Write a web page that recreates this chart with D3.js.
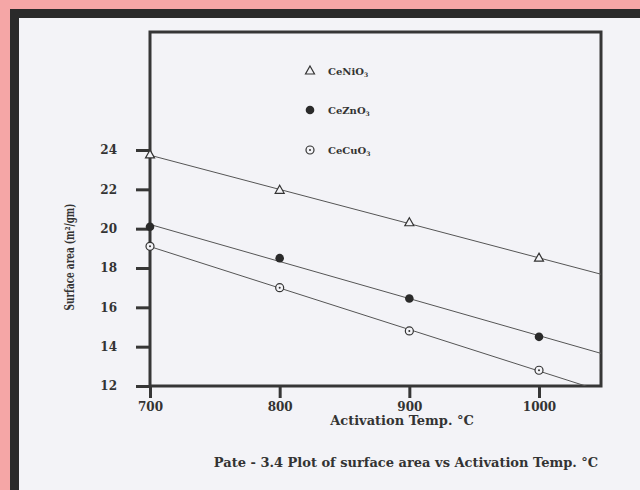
<!DOCTYPE html>
<html>
<head>
<meta charset="utf-8">
<script src="https://cdn.jsdelivr.net/npm/d3@7"></script>
<style>
  body { margin: 0; background: #f5a6a6; }
  svg { display: block; }
  text { font-family: "DejaVu Serif", "Liberation Serif", serif; font-weight: bold; fill: #333; }
</style>
</head>
<body>
<svg id="chart" width="640" height="490"></svg>
<script>
// data
const temps = [700, 800, 900, 1000]
const ceNiO3 = [23.75, 21.95, 20.3, 18.5]
const ceZnO3 = [20.1, 18.5, 16.45, 14.5]
const ceCuO3 = [19.1, 17.0, 14.8, 12.8]
const xTicks = [700, 800, 900, 1000]
const yTicks = [12, 14, 16, 18, 20, 22, 24]

const series = [
  { name: 'CeNiO', values: ceNiO3, marker: 'triangle' },
  { name: 'CeZnO', values: ceZnO3, marker: 'dot' },
  { name: 'CeCuO', values: ceCuO3, marker: 'ring' }
]

const svg = d3.select('#chart')

// paper + dark frame of the scan
svg.append('rect').attr('x', 10).attr('y', 9).attr('width', 640).attr('height', 490).attr('fill', '#2a2a2a')
svg.append('rect').attr('x', 19).attr('y', 18).attr('width', 640).attr('height', 490).attr('fill', '#f3f3f7')

const boxL = 150, boxR = 601, boxT = 32, boxB = 386
const x = d3.scaleLinear().domain([700, 700 + (boxR - boxL) / 1.2967]).range([boxL, boxR])
const y = d3.scaleLinear().domain([12, 30]).range([boxB, boxT])

const ink = '#363636'

// box
svg.append('rect')
  .attr('x', boxL).attr('y', boxT)
  .attr('width', boxR - boxL).attr('height', boxB - boxT)
  .attr('fill', 'none').attr('stroke', ink).attr('stroke-width', 3)

// y axis
const yAxis = svg.append('g')
  .attr('transform', `translate(${boxL},0)`)
  .call(d3.axisLeft(y).tickValues(yTicks).tickSize(14).tickPadding(19))
yAxis.select('.domain').remove()
yAxis.selectAll('line').attr('stroke', ink).attr('stroke-width', 3)
yAxis.selectAll('text').style('font-size', '12px').attr('fill', ink)

// x axis
const xAxis = svg.append('g')
  .attr('transform', `translate(0,${boxB})`)
  .call(d3.axisBottom(x).tickValues(xTicks).tickFormat(d3.format('d')).tickSize(12).tickPadding(4))
xAxis.select('.domain').remove()
xAxis.selectAll('line').attr('stroke', ink).attr('stroke-width', 3)
xAxis.selectAll('text').style('font-size', '12px').attr('fill', ink)

// fitted straight lines, clipped to the box
svg.append('clipPath').attr('id', 'box')
  .append('rect').attr('x', boxL).attr('y', boxT).attr('width', boxR - boxL).attr('height', boxB - boxT)

function fit (vals) {
  const mx = d3.mean(temps), my = d3.mean(vals)
  const b = d3.sum(temps, (t, i) => (t - mx) * (vals[i] - my)) / d3.sum(temps, t => (t - mx) * (t - mx))
  return t => my + b * (t - mx)
}

series.forEach(s => {
  const f = fit(s.values)
  const x0 = 700, x1 = x.domain()[1]
  svg.append('line')
    .attr('clip-path', 'url(#box)')
    .attr('x1', x(x0)).attr('y1', y(f(x0)))
    .attr('x2', x(x1)).attr('y2', y(f(x1)))
    .attr('stroke', '#555').attr('stroke-width', 1)
})

function drawMarker (g, type, cx, cy) {
  if (type === 'triangle') {
    g.append('path')
      .attr('d', `M${cx},${cy - 5}L${cx + 4.5},${cy + 3}L${cx - 4.5},${cy + 3}Z`)
      .attr('fill', '#f3f3f7').attr('stroke', '#333').attr('stroke-width', 1.2)
  } else if (type === 'dot') {
    g.append('circle').attr('cx', cx).attr('cy', cy).attr('r', 4.3).attr('fill', '#2a2a2a')
  } else {
    g.append('circle').attr('cx', cx).attr('cy', cy).attr('r', 4)
      .attr('fill', '#f3f3f7').attr('stroke', '#333').attr('stroke-width', 1.2)
    g.append('circle').attr('cx', cx).attr('cy', cy).attr('r', 1).attr('fill', '#333')
  }
}

const marks = svg.append('g')
series.forEach(s => {
  s.values.forEach((v, i) => drawMarker(marks, s.marker, x(temps[i]), y(v)))
})

// legend
const legendY = [71, 110, 150]
series.forEach((s, i) => {
  drawMarker(svg, s.marker, 310, legendY[i])
  const t = svg.append('text').attr('x', 328).attr('y', legendY[i] + 4).style('font-size', '10px').text(s.name)
  t.append('tspan').attr('dy', 2).style('font-size', '6px').text('3')
})

// axis titles
svg.append('text')
  .attr('x', 402).attr('y', 425)
  .attr('text-anchor', 'middle').style('font-size', '13px')
  .text('Activation Temp. °C')

svg.append('text')
  .attr('transform', 'translate(74,257) rotate(-90)')
  .attr('text-anchor', 'middle').style('font-size', '12px')
  .attr('textLength', 107).attr('lengthAdjust', 'spacingAndGlyphs')
  .text('Surface area (m²/gm)')

svg.append('text')
  .attr('x', 406).attr('y', 467)
  .attr('text-anchor', 'middle').style('font-size', '13px')
  .text('Pate - 3.4 Plot of surface area vs Activation Temp. °C')
</script>
</body>
</html>
